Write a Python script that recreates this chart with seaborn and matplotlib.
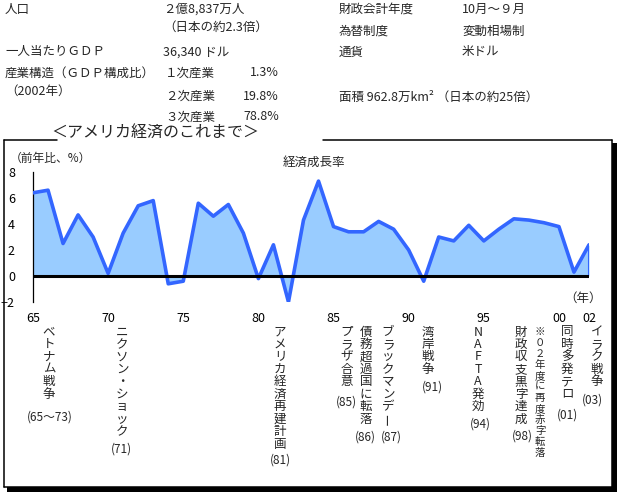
import numpy as np
import pandas as pd
import seaborn as sns
import matplotlib.pyplot as plt
from matplotlib.patches import Rectangle
from matplotlib.lines import Line2D

# data
years = [1965, 1966, 1967, 1968, 1969, 1970, 1971, 1972, 1973, 1974,
         1975, 1976, 1977, 1978, 1979, 1980, 1981, 1982, 1983, 1984,
         1985, 1986, 1987, 1988, 1989, 1990, 1991, 1992, 1993, 1994,
         1995, 1996, 1997, 1998, 1999, 2000, 2001, 2002]
growth = [6.4, 6.6, 2.5, 4.7, 3.0, 0.2, 3.3, 5.4, 5.8, -0.6,
          -0.4, 5.6, 4.6, 5.5, 3.3, -0.2, 2.4, -2.0, 4.3, 7.3,
          3.8, 3.4, 3.4, 4.2, 3.6, 2.0, -0.4, 3.0, 2.7, 3.9,
          2.7, 3.6, 4.4, 4.3, 4.1, 3.8, 0.3, 2.4]
tick_years = [1965, 1970, 1975, 1980, 1985, 1990, 1995, 2000, 2002]
tick_labels = ['65', '70', '75', '80', '85', '90', '95', '00', '02']
y_ticks = [-2, 0, 2, 4, 6, 8]

header_left_labels = ['人口', '一人当たりＧＤＰ', '産業構造（ＧＤＰ構成比）', '（2002年）']
header_left_values = ['２億8,837万人', '（日本の約2.3倍）', '36,340 ドル']
industry_names = ['１次産業', '２次産業', '３次産業']
industry_shares = ['1.3%', '19.8%', '78.8%']
header_right_labels = ['財政会計年度', '為替制度', '通貨']
header_right_values = ['10月～９月', '変動相場制', '米ドル']
area_text = '面積 962.8万km² （日本の約25倍）'

events = ['ベトナム戦争', 'ニクソン・ショック', 'アメリカ経済再建計画', 'プラザ合意',
          '債務超過国に転落', 'ブラックマンデー', '湾岸戦争', 'NAFTA発効',
          '財政収支黒字達成', '※０２年度に再度赤字転落', '同時多発テロ', 'イラク戦争']
event_when = ['(65～73)', '(71)', '(81)', '(85)', '(86)', '(87)', '(91)', '(94)',
              '(98)', '', '(01)', '(03)']

# layout (pixels)
event_x = [49, 122, 280, 347, 366, 388, 428, 478, 521, 540, 567, 597]
when_x = [50, 121, 280, 346, 365, 391, 432, 480, 522, 0, 568, 592]
when_y = [417, 449, 460, 402, 437, 437, 387, 424, 436, 0, 415, 400]

W, H = 617, 492
def fx(x):
    return x / W
def fy(y):
    return 1 - y / H

sns.set_theme(style='white')
plt.rcParams['font.family'] = ['Noto Sans CJK JP', 'DejaVu Sans']

fig = plt.figure(figsize=(W / 100, H / 100), dpi=100)

# frame with drop shadow
fig.patches.append(Rectangle((fx(7), fy(492)), fx(610), 349 / H, transform=fig.transFigure,
                             facecolor='black', edgecolor='none', zorder=-2))
fig.patches.append(Rectangle((fx(4), fy(487)), fx(608), 347 / H, transform=fig.transFigure,
                             facecolor='white', edgecolor='none', zorder=-1))
frame_segs = [((4, 140), (4, 487)), ((4, 487), (612, 487)), ((612, 487), (612, 140)),
              ((4, 140), (57, 140)), ((323, 140), (612, 140))]
for (x0, y0), (x1, y1) in frame_segs:
    fig.add_artist(Line2D([fx(x0), fx(x1)], [fy(y0), fy(y1)], transform=fig.transFigure,
                          color='black', lw=1.1, zorder=2))

ax = fig.add_axes([fx(33), fy(302), (589 - 33) / W, (302 - 172) / H])
ax.set_facecolor('none')

df = pd.DataFrame({'year': years, 'growth': growth})
ax.fill_between(df['year'], df['growth'], 0, color='#99CCFF', lw=0, zorder=1)
sns.lineplot(data=df, x='year', y='growth', ax=ax, color='#3366FF', lw=2.6, zorder=3)
ax.plot([years[-1], years[-1]], [0, growth[-1]], color='#3366FF', lw=1.5, zorder=3)
ax.axhline(0, color='black', lw=2.2, zorder=4)

ax.set_xlim(years[0], years[-1])
ax.set_ylim(-2, 8)
ax.set_xticks(tick_years)
ax.set_xticklabels(tick_labels)
ax.set_yticks(y_ticks)
ax.set_xlabel('')
ax.set_ylabel('')
for s in ['top', 'right', 'bottom']:
    ax.spines[s].set_visible(False)
ax.spines['left'].set_color('black')
ax.spines['left'].set_linewidth(0.9)
ax.tick_params(axis='x', length=0, pad=7, labelsize=9, colors='black')
ax.tick_params(axis='y', direction='in', length=3, width=0.9, pad=13, labelsize=9, colors='black')

fs = 9
fig.text(fx(10), fy(158), '（前年比、%）', fontsize=8.5, va='center')
fig.text(fx(314), fy(162), '経済成長率', fontsize=9, va='center', ha='center')
fig.text(fx(583), fy(298), '（年）', fontsize=9, va='center', ha='center')
fig.text(fx(155), fy(133), '＜アメリカ経済のこれまで＞', fontsize=11.5, va='center', ha='center', zorder=5)

# header block
left_y = [9, 52, 73, 91]
for t, y in zip(header_left_labels, left_y):
    fig.text(fx(5), fy(y), t, fontsize=fs, va='center')
for t, y in zip(header_left_values, [9, 27, 52]):
    fig.text(fx(163), fy(y), t, fontsize=fs, va='center')
for n, p, y in zip(industry_names, industry_shares, [73, 96, 117]):
    fig.text(fx(165), fy(y), n, fontsize=fs, va='center')
    fig.text(fx(279), fy(y), p, fontsize=fs, va='center', ha='right')
for t, v, y in zip(header_right_labels, header_right_values, [9, 31, 52]):
    fig.text(fx(339), fy(y), t, fontsize=fs, va='center')
    fig.text(fx(462), fy(y), v, fontsize=fs, va='center')
fig.text(fx(339), fy(97), area_text, fontsize=fs, va='center')

# vertical event labels
for i, ev in enumerate(events):
    small = ev.startswith('※')
    step = 11 if small else 12.45
    size = 7.5 if small else 9
    for j, ch in enumerate(ev):
        rot = 90 if ch == 'ー' else 0
        fig.text(fx(event_x[i]), fy(332 + j * step), ch, fontsize=size,
                 ha='center', va='center', rotation=rot)
    if event_when[i]:
        fig.text(fx(when_x[i]), fy(when_y[i]), event_when[i], fontsize=8.5,
                 ha='center', va='center')

fig.savefig('out.png', dpi=100)
